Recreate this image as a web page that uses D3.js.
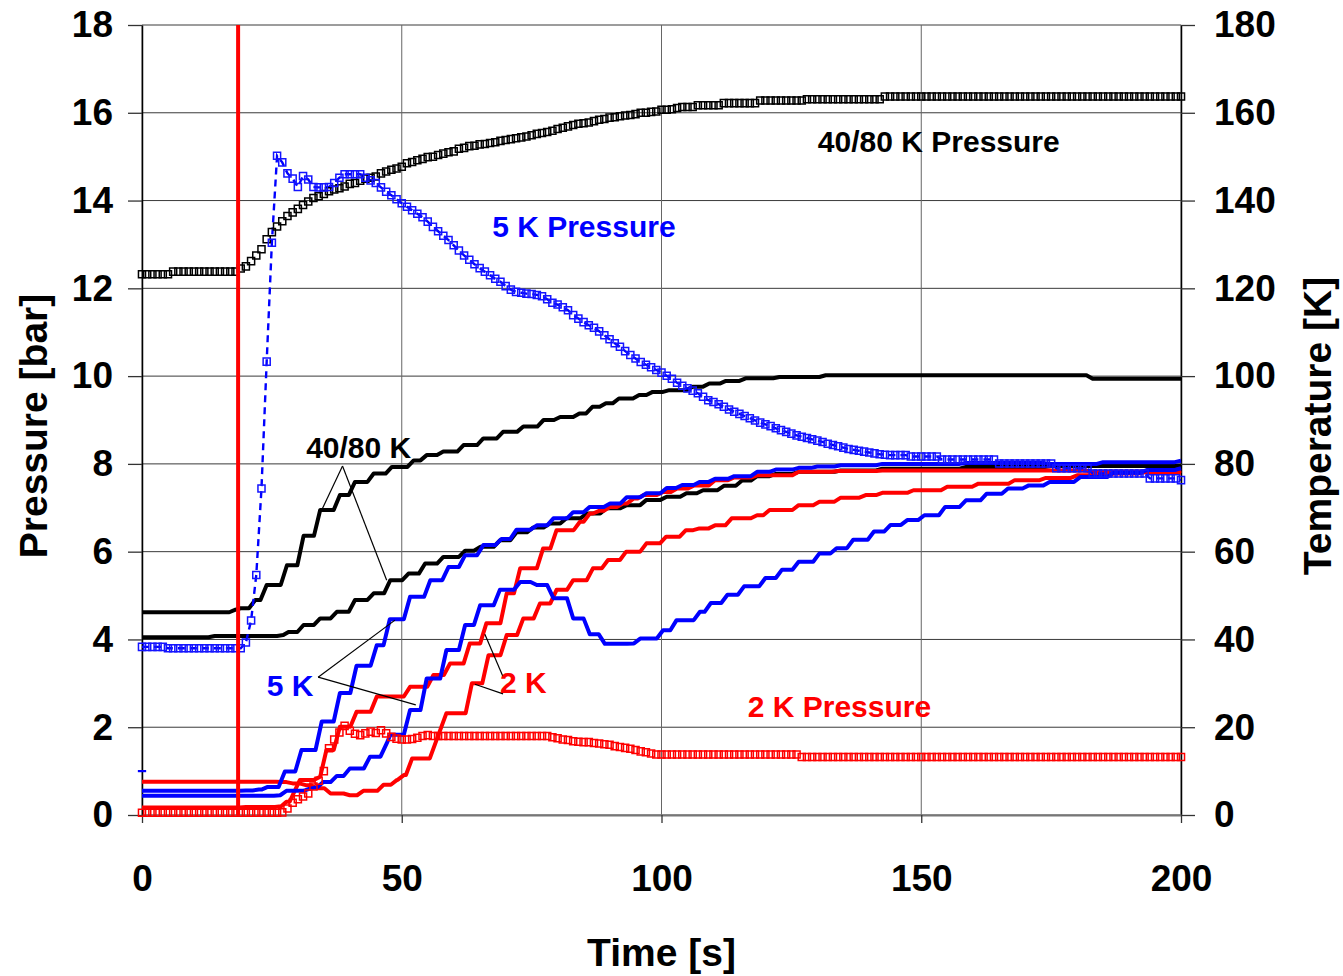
<!DOCTYPE html>
<html lang="en">
<head>
<meta charset="UTF-8">
<title>Pressure and temperature after quench</title>
<script src="https://d3js.org/d3.v7.min.js"></script>
<style>
  body { margin: 0; background: #fff; }
  svg text { font-family: "Liberation Sans", Arial, Helvetica, sans-serif; font-weight: bold; }
</style>
</head>
<body>
<svg width="1343" height="976"></svg>
<script>
// ---- data ------------------------------------------------------------
// pressure readings, one per second from t = 0 to 200 s  [bar]
const pressTime = d3.range(0, 201);

const press4080 = [
  12.32,12.32,12.32,12.32,12.32,12.32,12.38,12.38,12.38,12.38,
  12.38,12.38,12.38,12.38,12.38,12.38,12.38,12.38,12.38,12.45,
  12.50,12.62,12.75,12.89,13.12,13.28,13.41,13.53,13.65,13.73,
  13.81,13.90,13.98,14.06,14.10,14.15,14.21,14.25,14.28,14.32,
  14.38,14.40,14.45,14.50,14.52,14.55,14.62,14.66,14.70,14.73,
  14.77,14.85,14.88,14.92,14.95,14.99,15.00,15.04,15.07,15.10,
  15.12,15.18,15.20,15.24,15.25,15.28,15.29,15.31,15.33,15.36,
  15.38,15.40,15.42,15.44,15.46,15.49,15.52,15.54,15.56,15.59,
  15.63,15.66,15.69,15.72,15.75,15.76,15.78,15.81,15.84,15.86,
  15.89,15.90,15.92,15.94,15.95,15.97,16.00,16.00,16.02,16.03,
  16.07,16.07,16.08,16.11,16.13,16.13,16.13,16.17,16.17,16.17,
  16.17,16.17,16.22,16.22,16.22,16.22,16.22,16.22,16.22,16.28,
  16.28,16.28,16.28,16.28,16.28,16.28,16.28,16.28,16.31,16.31,
  16.31,16.31,16.31,16.31,16.31,16.31,16.31,16.31,16.31,16.31,
  16.31,16.31,16.31,16.37,16.37,16.37,16.37,16.37,16.37,16.37,
  16.37,16.37,16.37,16.37,16.37,16.37,16.37,16.37,16.37,16.37,
  16.37,16.37,16.37,16.37,16.37,16.37,16.37,16.37,16.37,16.37,
  16.37,16.37,16.37,16.37,16.37,16.37,16.37,16.37,16.37,16.37,
  16.37,16.37,16.37,16.37,16.37,16.37,16.37,16.37,16.37,16.37,
  16.37,16.37,16.37,16.37,16.37,16.37,16.37,16.37,16.37,16.37,
  16.37
];

const press5K = [
  3.83,3.83,3.83,3.83,3.83,3.80,3.80,3.80,3.80,3.80,
  3.80,3.80,3.80,3.80,3.80,3.80,3.80,3.80,3.80,3.80,
  3.93,4.43,5.47,7.44,10.33,13.04,15.02,14.87,14.62,14.50,
  14.31,14.56,14.48,14.31,14.30,14.30,14.31,14.40,14.52,14.60,
  14.60,14.60,14.60,14.52,14.46,14.40,14.30,14.20,14.12,14.03,
  13.94,13.86,13.78,13.70,13.62,13.52,13.40,13.30,13.20,13.10,
  12.98,12.86,12.75,12.65,12.55,12.46,12.38,12.30,12.22,12.15,
  12.05,11.97,11.92,11.90,11.88,11.87,11.85,11.82,11.75,11.67,
  11.63,11.57,11.50,11.39,11.31,11.23,11.16,11.10,11.02,10.93,
  10.84,10.75,10.67,10.57,10.48,10.40,10.32,10.26,10.20,10.14,
  10.08,10.01,9.94,9.85,9.78,9.72,9.67,9.61,9.53,9.45,
  9.41,9.36,9.30,9.24,9.19,9.14,9.09,9.04,8.99,8.94,
  8.90,8.86,8.81,8.77,8.73,8.69,8.65,8.62,8.59,8.56,
  8.53,8.50,8.46,8.43,8.40,8.37,8.34,8.32,8.30,8.28,
  8.26,8.24,8.22,8.21,8.20,8.20,8.20,8.20,8.17,8.17,
  8.17,8.17,8.17,8.17,8.10,8.10,8.10,8.10,8.10,8.10,
  8.10,8.10,8.10,8.10,8.10,8.01,8.01,8.01,8.01,8.01,
  8.01,8.01,8.01,8.01,8.01,8.01,7.90,7.90,7.90,7.90,
  7.90,7.90,7.90,7.78,7.78,7.78,7.78,7.78,7.78,7.78,
  7.78,7.78,7.78,7.78,7.67,7.67,7.67,7.67,7.67,7.67,
  7.63
];

const press2K = [
  0.05,0.05,0.05,0.05,0.05,0.05,0.05,0.05,0.05,0.05,
  0.05,0.05,0.05,0.05,0.05,0.05,0.05,0.05,0.05,0.05,
  0.05,0.05,0.05,0.05,0.05,0.05,0.05,0.06,0.15,0.28,
  0.36,0.42,0.49,0.65,0.78,1.00,1.52,1.72,1.88,2.03,
  1.92,1.85,1.82,1.86,1.90,1.87,1.93,1.86,1.78,1.74,
  1.72,1.72,1.73,1.76,1.80,1.82,1.80,1.80,1.80,1.80,
  1.80,1.80,1.80,1.80,1.80,1.80,1.80,1.80,1.80,1.80,
  1.80,1.80,1.80,1.80,1.80,1.80,1.80,1.80,1.80,1.77,
  1.75,1.72,1.71,1.68,1.67,1.66,1.66,1.64,1.63,1.61,
  1.60,1.57,1.55,1.53,1.51,1.48,1.45,1.43,1.40,1.38,
  1.38,1.38,1.38,1.38,1.38,1.38,1.38,1.38,1.38,1.38,
  1.38,1.38,1.38,1.38,1.38,1.38,1.38,1.38,1.38,1.38,
  1.38,1.38,1.38,1.38,1.38,1.38,1.38,1.32,1.32,1.32,
  1.32,1.32,1.32,1.32,1.32,1.32,1.32,1.32,1.32,1.32,
  1.32,1.32,1.32,1.32,1.32,1.32,1.32,1.32,1.32,1.32,
  1.32,1.32,1.32,1.32,1.32,1.32,1.32,1.32,1.32,1.32,
  1.32,1.32,1.32,1.32,1.32,1.32,1.32,1.32,1.32,1.32,
  1.32,1.32,1.32,1.32,1.32,1.32,1.32,1.32,1.32,1.32,
  1.32,1.32,1.32,1.32,1.32,1.32,1.32,1.32,1.32,1.32,
  1.32,1.32,1.32,1.32,1.32,1.32,1.32,1.32,1.32,1.32,
  1.32
];

// temperature readings [t s, T K, optional rise duration s]; the logger
// holds each level until the next reading, giving the staircase look
const temp4080a = [[0,46.2],[18,46.8],[19,47.1],[21.8,49.0],[24.0,52.4],[27.9,56.9],[31.1,63.6],
  [34.3,69.5],[38.1,72.9],[41.0,75.9],[44.6,77.8],[48.1,79.3],[52.3,80.8],[54.8,82.0],[58.0,82.8],
  [61.9,84.3],[65.7,85.8],[69.5,87.3],[73.4,88.5],[77.3,90.0],[80.5,90.7],[84.2,91.5],[86.7,93.0],
  [89.3,93.8],[91.8,94.9],[95.7,95.7],[98.3,96.4],[101.5,96.8],[106.0,97.6],[109.2,98.3],[112.4,98.9],
  [116.2,99.5],[122.7,99.8],[131.6,100.2],[181.0,100.2],[183.0,99.4],[200,99.4]];

const temp4080b = [[0,40.5],[14,40.8],[27.2,41.0],[28.2,41.7],[31.1,43.3],[34.3,44.8],[37.5,46.3],
  [41.0,49.0],[44.6,50.5],[47.8,53.5],[51.3,55.0],[54.5,57.3],[58.0,58.8],[62.2,60.2],[65.1,61.1],
  [68.9,62.6],[72.1,64.4],[75.3,65.5],[78.5,66.4],[81.7,67.6],[85.6,68.7],[89.4,69.9],[93.3,70.6],
  [97.1,71.8],[101.0,72.5],[104.8,73.3],[108.0,74.0],[112.0,75.0],[115.5,76.2],[118.4,77.2],
  [122.0,77.7],[126.4,78.2],[134.5,78.5],[142.5,78.9],[158.6,79.3],[175.0,79.5],[200,79.6]];

const temp5Ka = [[0,5.5],[20,5.6],[22.5,5.8],[24.2,6.4],[27.5,9.9],[30.7,14.8],[34.6,21.3],
  [38.1,27.8],[41.3,34.0],[45.2,38.7],[47.7,44.6],[51.6,49.7],[55.5,53.5],[59.0,56.5],[62.2,59.2],
  [65.7,61.5],[69.2,62.9],[72.1,65.0],[76.0,66.0],[79.2,67.6],[83.0,69.0],[86.2,70.2],[90.1,71.0],
  [93.3,72.4],[97.1,73.3],[101.0,74.5],[104.0,75.2],[107.4,75.9],[110.3,76.6],[114.0,77.2],
  [118.4,78.2],[122.0,78.7],[126.4,79.1],[130.0,79.4],[134.5,79.7],[142.5,80.0],[158.6,80.2],
  [174.7,80.0],[185.0,80.4],[200,80.7]];

const temp5Kb = [[0,4.4],[26.6,4.5],[27.8,5.5],[32.3,6.0],[33.6,6.3],[34.9,7.5],[37.5,8.9],
  [40.0,10.6],[43.9,13.3],[47.1,16.3],[47.8,18.3],[51.6,23.9],[54.8,31.1],[58.6,37.6],[62.2,43.3],
  [65.1,47.8],[68.9,51.3],[72.8,53.1],[76.0,52.4],[79.2,49.4],[83.0,44.8],[86.2,41.2],[89.1,39.0],
  [94.6,39.1],[95.9,40.2],[100.3,42.1],[102.9,44.4],[107.4,46.3],[109.5,48.3],[112.7,50.2],
  [115.9,52.1],[120.0,54.0],[123.2,55.9],[126.4,57.7],[130.4,59.6],[133.7,60.8],[136.9,62.7],
  [140.9,64.6],[144.1,66.1],[147.3,67.2],[150.6,68.3],[154.6,70.2],[158.6,71.7],[162.6,73.2],
  [166.7,74.4],[170.7,75.1],[174.7,75.9],[180.6,77.0],[187.0,78.0],[193.4,78.6],[200,79.0]];

const temp2Ka = [[0,7.6],[27.0,7.5],[29.0,7.2],[31.5,6.8],[33.7,6.1],[36.3,4.9],[40.0,4.5],
  [42.6,5.5],[46.5,6.9],[49.1,8.0],[50.4,9.1],[52.0,12.9],[58.6,23.2,3.2],[63.5,30.0],[66.7,36.4],
  [70.2,41.0],[73.4,44.8],[76.6,48.2],[79.8,51.3],[83.0,53.5],[86.8,56.2],[89.7,58.1],[93.2,60.0],
  [97.1,61.9],[100.9,63.4],[104.7,64.9],[107.3,65.3],[110.3,66.0],[113.5,67.6],[118.4,68.3],
  [120.8,69.5],[126.4,70.6],[130.4,71.4],[134.5,72.3],[139.3,72.9],[142.5,73.4],[148.5,74.0],
  [155.0,74.8],[161.0,75.5],[168.0,76.3],[174.0,76.8],[180.0,77.4],[187.0,77.8],[193.0,78.1],
  [200,78.4]];

const temp2Kb = [[0,1.7],[20,1.8],[26.8,2.0],[27.8,3.0],[30.4,8.0,2.0],[34.3,8.7],[35.5,14.8],
  [38.1,20.1],[41.3,23.5],[45.2,27.0],[51.6,29.2],[56.1,31.9],[59.3,34.5],[63.1,39.1],[66.3,43.7],
  [70.2,50.5],[72.8,56.2],[77.2,60.7],[79.8,64.9],[84.3,66.8],[86.2,68.7],[88.0,69.3],[90.1,70.2],
  [92.6,71.0],[94.6,72.1],[96.6,72.9],[100.3,73.6],[103.0,74.4],[106.3,75.1],[110.3,76.3],
  [114.0,76.9],[118.4,77.4],[126.4,78.2],[134.0,78.4],[142.5,78.5],[158.6,78.5],[182.8,78.2],
  [200,77.8]];

const temp5Kstub = [[-0.8,10],[0.8,10]];

const eventTime = 18.5;   // heater / quench start

// annotations (time s, pressure bar)
const labelText  = ["40/80 K Pressure", "5 K Pressure", "2 K Pressure", "40/80 K", "5 K", "2 K"];
const labelTime  = [130.1, 67.4, 116.6, 31.6, 24.0, 68.9];
const labelPress = [15.1, 13.17, 2.23, 8.13, 2.71, 2.77];
const labelColor = ["#000", "#0000ff", "#ff0000", "#000", "#0000ff", "#ff0000"];

const leaderFrom = [[38.6,7.95],[38.6,7.95],[33.9,3.14],[33.9,3.14],[69.5,3.15],[69.5,2.76]];
const leaderTo   = [[34.6,6.95],[47.1,5.35],[48.7,4.44],[52.7,2.51],[66.0,4.12],[64.1,2.98]];

const timeTicks  = [0, 50, 100, 150, 200];
const pressTicks = d3.range(0, 19, 2);
const tempTicks  = d3.range(0, 181, 20);

// ---- chart -----------------------------------------------------------
const svg = d3.select("svg");
const plotL = 142, plotR = 1181, plotT = 25, plotB = 815;

const x  = d3.scaleLinear().domain([0, 200]).range([plotL, plotR]);
const yP = d3.scaleLinear().domain([0, 18]).range([plotB, plotT]);
const yT = d3.scaleLinear().domain([0, 180]).range([plotB, plotT]);

// grid
const grid = svg.append("g").attr("stroke", "#3a3a3a").attr("stroke-width", 1);
grid.selectAll("line.h").data(pressTicks).enter().append("line")
    .attr("x1", plotL).attr("x2", plotR)
    .attr("y1", d => yP(d)).attr("y2", d => yP(d));
grid.selectAll("line.v").data(timeTicks).enter().append("line")
    .attr("y1", plotT).attr("y2", plotB)
    .attr("x1", d => x(d)).attr("x2", d => x(d))
    .attr("stroke", "#666");

// axes
const axL = svg.append("g").attr("transform", `translate(${plotL},0)`)
    .call(d3.axisLeft(yP).tickValues(pressTicks).tickSize(14).tickSizeOuter(0).tickPadding(15));
const axR = svg.append("g").attr("transform", `translate(${plotR},0)`)
    .call(d3.axisRight(yT).tickValues(tempTicks).tickSize(14).tickSizeOuter(0).tickPadding(19));
const axB = svg.append("g").attr("transform", `translate(0,${plotB})`)
    .call(d3.axisBottom(x).tickValues(timeTicks).tickSize(8).tickSizeOuter(0).tickPadding(42));
[axL, axR, axB].forEach(a => {
  a.selectAll("text").attr("font-size", 37).attr("fill", "#000")
   .style("font-family", '"Liberation Sans", Arial, sans-serif').style("font-weight", "bold");
  a.selectAll("line").attr("stroke", "#333").attr("stroke-width", 1.3);
  a.select(".domain").attr("stroke", "#000").attr("stroke-width", 1.5);
});
axB.select(".domain").attr("stroke", "#777").attr("stroke-width", 2);

// axis titles
svg.append("text").attr("x", (plotL + plotR) / 2).attr("y", 966)
   .attr("text-anchor", "middle").attr("font-size", 39).text("Time [s]");
svg.append("text").attr("transform", `translate(47,${(plotT + plotB) / 2 + 6}) rotate(-90)`)
   .attr("text-anchor", "middle").attr("font-size", 39).text("Pressure [bar]");
svg.append("text").attr("transform", `translate(1331,${(plotT + plotB) / 2 + 6}) rotate(-90)`)
   .attr("text-anchor", "middle").attr("font-size", 39).text("Temperature [K]");

// temperature staircases
function stairs(samples) {
  const pts = [];
  samples.forEach((d, i) => {
    pts.push([d[0], d[1]]);
    const next = samples[i + 1];
    if (next) {
      const rise = next[2] !== undefined ? next[2] : 1.2;
      pts.push([Math.max(d[0], next[0] - rise), d[1]]);
    }
  });
  return pts;
}
const tLine = d3.line().x(d => x(d[0])).y(d => yT(d[1]));
const temps = [
  [temp4080a, "#000"], [temp4080b, "#000"],
  [temp2Ka, "#ff0000"], [temp2Kb, "#ff0000"],
  [temp5Ka, "#0000ff"], [temp5Kb, "#0000ff"]
];
svg.append("g").selectAll("path").data(temps).enter().append("path")
   .attr("d", d => tLine(stairs(d[0])))
   .attr("fill", "none").attr("stroke", d => d[1])
   .attr("stroke-width", 4).attr("stroke-linejoin", "round");
svg.append("path").attr("d", tLine(temp5Kstub))
   .attr("fill", "none").attr("stroke", "#0000ff").attr("stroke-width", 2.2);

// pressures
const pLine = d3.line().x(d => x(d[0])).y(d => yP(d[1]));
const zip = vals => pressTime.map((t, i) => [t, vals[i]]);
svg.append("path").attr("d", pLine(zip(press5K)))
   .attr("fill", "none").attr("stroke", "#0000ff").attr("stroke-width", 2.4)
   .attr("stroke-dasharray", "7,5");

const square = d3.symbol().type(d3.symbolSquare).size(50);
const pressures = [[press4080, "#000"], [press2K, "#ff0000"], [press5K, "#1414ff"]];
pressures.forEach(([vals, col]) => {
  svg.append("g").selectAll("path").data(zip(vals)).enter().append("path")
     .attr("d", square)
     .attr("transform", d => `translate(${x(d[0])},${yP(d[1])})`)
     .attr("fill", "none").attr("stroke", col).attr("stroke-width", 1.5);
});

// event marker
svg.append("line")
   .attr("x1", x(eventTime)).attr("x2", x(eventTime))
   .attr("y1", yP(18)).attr("y2", yP(0))
   .attr("stroke", "#ff0000").attr("stroke-width", 4);

// leaders and labels
svg.append("g").selectAll("line").data(leaderFrom).enter().append("line")
   .attr("x1", d => x(d[0])).attr("y1", d => yP(d[1]))
   .attr("x2", (d, i) => x(leaderTo[i][0])).attr("y2", (d, i) => yP(leaderTo[i][1]))
   .attr("stroke", "#000").attr("stroke-width", 1.2);

svg.append("g").selectAll("text").data(labelText).enter().append("text")
   .attr("x", (d, i) => x(labelTime[i])).attr("y", (d, i) => yP(labelPress[i]))
   .attr("fill", (d, i) => labelColor[i]).attr("font-size", 30)
   .text(d => d);
</script>
</body>
</html>
